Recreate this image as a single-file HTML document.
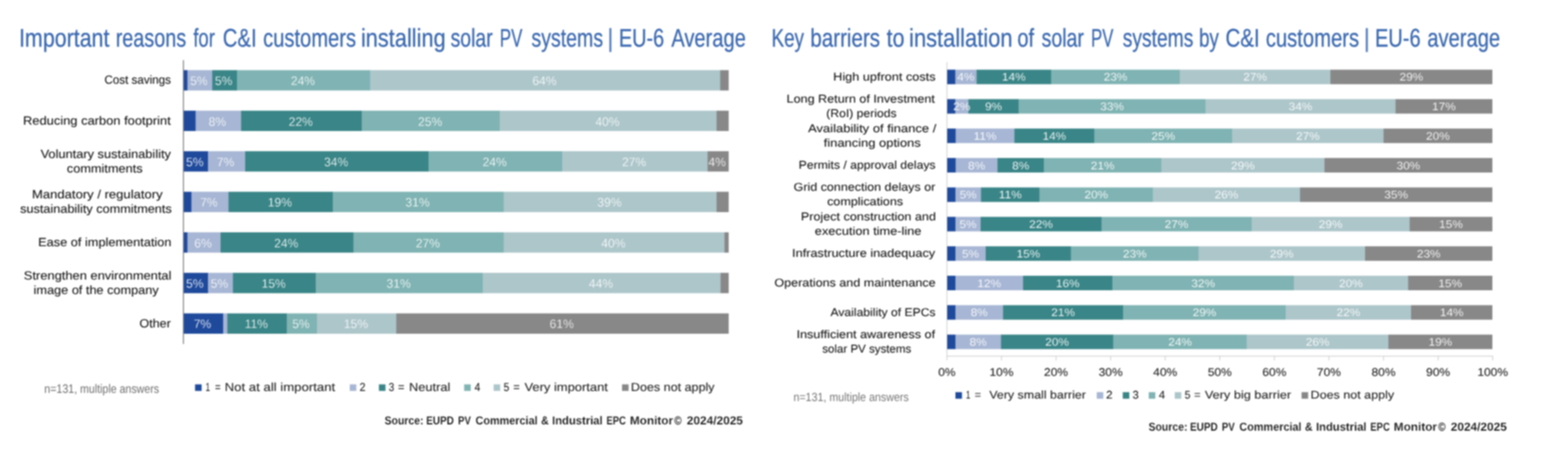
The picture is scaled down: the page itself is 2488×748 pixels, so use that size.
<!DOCTYPE html>
<html lang="en">
<head>
<meta charset="utf-8">
<title>C&amp;I solar PV survey charts</title>
<style>
html,body{margin:0;padding:0;background:#ffffff;}
body{width:2488px;height:748px;overflow:hidden;position:relative;}
svg{position:absolute;left:0;top:0;display:block;font-family:"Liberation Sans",sans-serif;}
svg text{white-space:pre;text-rendering:geometricPrecision;}
#left{filter:blur(1.0px);}
#right{filter:blur(1.2px);}
</style>
</head>
<body>
<svg id="left" width="2488" height="748" viewBox="0 0 2488 748">
<text font-size="40.5" fill="#3a68b0" stroke="#3a68b0" stroke-width="0.4"><tspan x="30.14" y="73.75" textLength="143.55" lengthAdjust="spacingAndGlyphs">Important</tspan> <tspan x="183.66" y="73.75" textLength="111.67" lengthAdjust="spacingAndGlyphs">reasons</tspan> <tspan x="306.66" y="73.75" textLength="34.25" lengthAdjust="spacingAndGlyphs">for</tspan> <tspan x="353.60" y="73.75" textLength="53.50" lengthAdjust="spacingAndGlyphs">C&amp;I</tspan> <tspan x="417.42" y="73.75" textLength="147.58" lengthAdjust="spacingAndGlyphs">customers</tspan> <tspan x="572.70" y="73.75" textLength="134.46" lengthAdjust="spacingAndGlyphs">installing</tspan> <tspan x="714.93" y="73.75" textLength="66.76" lengthAdjust="spacingAndGlyphs">solar</tspan> <tspan x="793.05" y="73.75" textLength="35.86" lengthAdjust="spacingAndGlyphs">PV</tspan> <tspan x="843.17" y="73.75" textLength="113.77" lengthAdjust="spacingAndGlyphs">systems</tspan> <tspan x="963.36" y="73.75" stroke="none" fill-opacity="0.85">|</tspan> <tspan x="981.92" y="73.75" textLength="72.00" lengthAdjust="spacingAndGlyphs">EU-6</tspan> <tspan x="1065.20" y="73.75" textLength="118.18" lengthAdjust="spacingAndGlyphs">Average</tspan></text>
<rect x="290.45" y="95.50" width="1.20" height="450.80" fill="#555555"/>
<rect x="291.50" y="111.40" width="6.30" height="32.30" fill="#1f4a9c"/>
<rect x="297.50" y="111.40" width="39.55" height="32.30" fill="#a7b6d4"/>
<rect x="336.75" y="111.40" width="39.80" height="32.30" fill="#3a8587"/>
<rect x="376.25" y="111.40" width="211.55" height="32.30" fill="#80b3b3"/>
<rect x="587.50" y="111.40" width="555.55" height="32.30" fill="#adc6ca"/>
<rect x="1142.75" y="111.40" width="13.50" height="32.30" fill="#888888"/>
<text x="315.52" y="135.15" font-size="19.6" text-anchor="middle" textLength="27.76" lengthAdjust="spacingAndGlyphs" fill="#ffffff" fill-opacity="1" stroke="#a7b6d4" stroke-width="0.3">5%</text>
<text x="354.90" y="135.15" font-size="19.6" text-anchor="middle" textLength="27.76" lengthAdjust="spacingAndGlyphs" fill="#ffffff" fill-opacity="1" stroke="#3a8587" stroke-width="0.3">5%</text>
<text x="480.68" y="135.15" font-size="19.6" text-anchor="middle" textLength="38.44" lengthAdjust="spacingAndGlyphs" fill="#ffffff" fill-opacity="1" stroke="#80b3b3" stroke-width="0.3">24%</text>
<text x="863.92" y="135.15" font-size="19.6" text-anchor="middle" textLength="38.44" lengthAdjust="spacingAndGlyphs" fill="#ffffff" fill-opacity="1" stroke="#adc6ca" stroke-width="0.3">64%</text>
<text font-size="19.0" fill="#141414" stroke="#141414" stroke-width="0.12"><tspan x="165.78" y="133.45" textLength="105.41" lengthAdjust="spacingAndGlyphs">Cost savings</tspan></text>
<rect x="291.50" y="175.78" width="19.30" height="32.30" fill="#1f4a9c"/>
<rect x="310.50" y="175.78" width="72.30" height="32.30" fill="#a7b6d4"/>
<rect x="382.50" y="175.78" width="192.05" height="32.30" fill="#3a8587"/>
<rect x="574.25" y="175.78" width="219.30" height="32.30" fill="#80b3b3"/>
<rect x="793.25" y="175.78" width="344.05" height="32.30" fill="#adc6ca"/>
<rect x="1137.00" y="175.78" width="19.25" height="32.30" fill="#888888"/>
<text x="344.90" y="199.53" font-size="19.6" text-anchor="middle" textLength="27.76" lengthAdjust="spacingAndGlyphs" fill="#ffffff" fill-opacity="1" stroke="#a7b6d4" stroke-width="0.3">8%</text>
<text x="477.18" y="199.53" font-size="19.6" text-anchor="middle" textLength="38.44" lengthAdjust="spacingAndGlyphs" fill="#ffffff" fill-opacity="1" stroke="#3a8587" stroke-width="0.3">22%</text>
<text x="682.55" y="199.53" font-size="19.6" text-anchor="middle" textLength="38.44" lengthAdjust="spacingAndGlyphs" fill="#ffffff" fill-opacity="1" stroke="#80b3b3" stroke-width="0.3">25%</text>
<text x="963.92" y="199.53" font-size="19.6" text-anchor="middle" textLength="38.44" lengthAdjust="spacingAndGlyphs" fill="#ffffff" fill-opacity="1" stroke="#adc6ca" stroke-width="0.3">40%</text>
<text font-size="19.0" fill="#141414" stroke="#141414" stroke-width="0.12"><tspan x="36.56" y="197.83" textLength="234.28" lengthAdjust="spacingAndGlyphs">Reducing carbon footprint</tspan></text>
<rect x="291.50" y="240.16" width="38.80" height="32.30" fill="#1f4a9c"/>
<rect x="330.00" y="240.16" width="59.30" height="32.30" fill="#a7b6d4"/>
<rect x="389.00" y="240.16" width="291.55" height="32.30" fill="#3a8587"/>
<rect x="680.25" y="240.16" width="212.05" height="32.30" fill="#80b3b3"/>
<rect x="892.00" y="240.16" width="231.05" height="32.30" fill="#adc6ca"/>
<rect x="1122.75" y="240.16" width="33.50" height="32.30" fill="#888888"/>
<text x="309.15" y="263.91" font-size="19.6" text-anchor="middle" textLength="27.76" lengthAdjust="spacingAndGlyphs" fill="#ffffff" fill-opacity="1" stroke="#1f4a9c" stroke-width="0.3">5%</text>
<text x="357.90" y="263.91" font-size="19.6" text-anchor="middle" textLength="27.76" lengthAdjust="spacingAndGlyphs" fill="#ffffff" fill-opacity="1" stroke="#a7b6d4" stroke-width="0.3">7%</text>
<text x="533.42" y="263.91" font-size="19.6" text-anchor="middle" textLength="38.44" lengthAdjust="spacingAndGlyphs" fill="#ffffff" fill-opacity="1" stroke="#3a8587" stroke-width="0.3">34%</text>
<text x="784.92" y="263.91" font-size="19.6" text-anchor="middle" textLength="38.44" lengthAdjust="spacingAndGlyphs" fill="#ffffff" fill-opacity="1" stroke="#80b3b3" stroke-width="0.3">24%</text>
<text x="1006.17" y="263.91" font-size="19.6" text-anchor="middle" textLength="38.44" lengthAdjust="spacingAndGlyphs" fill="#ffffff" fill-opacity="1" stroke="#adc6ca" stroke-width="0.3">27%</text>
<text x="1137.90" y="263.91" font-size="19.6" text-anchor="middle" textLength="27.76" lengthAdjust="spacingAndGlyphs" fill="#ffffff" fill-opacity="1" stroke="#888888" stroke-width="0.3">4%</text>
<text font-size="19.0" fill="#141414" stroke="#141414" stroke-width="0.12"><tspan x="64.45" y="250.61" textLength="206.80" lengthAdjust="spacingAndGlyphs">Voluntary sustainability</tspan> <tspan x="106.14" y="273.81" textLength="120.12" lengthAdjust="spacingAndGlyphs">commitments</tspan></text>
<rect x="291.50" y="304.54" width="12.55" height="32.30" fill="#1f4a9c"/>
<rect x="303.75" y="304.54" width="59.05" height="32.30" fill="#a7b6d4"/>
<rect x="362.50" y="304.54" width="165.80" height="32.30" fill="#3a8587"/>
<rect x="528.00" y="304.54" width="271.80" height="32.30" fill="#80b3b3"/>
<rect x="799.50" y="304.54" width="337.80" height="32.30" fill="#adc6ca"/>
<rect x="1137.00" y="304.54" width="19.25" height="32.30" fill="#888888"/>
<text x="331.52" y="328.29" font-size="19.6" text-anchor="middle" textLength="27.76" lengthAdjust="spacingAndGlyphs" fill="#ffffff" fill-opacity="1" stroke="#a7b6d4" stroke-width="0.3">7%</text>
<text x="444.05" y="328.29" font-size="19.6" text-anchor="middle" textLength="38.44" lengthAdjust="spacingAndGlyphs" fill="#ffffff" fill-opacity="1" stroke="#3a8587" stroke-width="0.3">19%</text>
<text x="662.55" y="328.29" font-size="19.6" text-anchor="middle" textLength="38.44" lengthAdjust="spacingAndGlyphs" fill="#ffffff" fill-opacity="1" stroke="#80b3b3" stroke-width="0.3">31%</text>
<text x="967.05" y="328.29" font-size="19.6" text-anchor="middle" textLength="38.44" lengthAdjust="spacingAndGlyphs" fill="#ffffff" fill-opacity="1" stroke="#adc6ca" stroke-width="0.3">39%</text>
<text font-size="19.0" fill="#141414" stroke="#141414" stroke-width="0.12"><tspan x="50.79" y="314.99" textLength="207.26" lengthAdjust="spacingAndGlyphs">Mandatory / regulatory</tspan> <tspan x="31.95" y="338.19" textLength="240.53" lengthAdjust="spacingAndGlyphs">sustainability commitments</tspan></text>
<rect x="291.50" y="368.92" width="6.30" height="32.30" fill="#1f4a9c"/>
<rect x="297.50" y="368.92" width="52.80" height="32.30" fill="#a7b6d4"/>
<rect x="350.00" y="368.92" width="211.05" height="32.30" fill="#3a8587"/>
<rect x="560.75" y="368.92" width="239.05" height="32.30" fill="#80b3b3"/>
<rect x="799.50" y="368.92" width="350.30" height="32.30" fill="#adc6ca"/>
<rect x="1149.50" y="368.92" width="6.75" height="32.30" fill="#888888"/>
<text x="322.15" y="392.67" font-size="19.6" text-anchor="middle" textLength="27.76" lengthAdjust="spacingAndGlyphs" fill="#ffffff" fill-opacity="1" stroke="#a7b6d4" stroke-width="0.3">6%</text>
<text x="454.18" y="392.67" font-size="19.6" text-anchor="middle" textLength="38.44" lengthAdjust="spacingAndGlyphs" fill="#ffffff" fill-opacity="1" stroke="#3a8587" stroke-width="0.3">24%</text>
<text x="678.92" y="392.67" font-size="19.6" text-anchor="middle" textLength="38.44" lengthAdjust="spacingAndGlyphs" fill="#ffffff" fill-opacity="1" stroke="#80b3b3" stroke-width="0.3">27%</text>
<text x="973.30" y="392.67" font-size="19.6" text-anchor="middle" textLength="38.44" lengthAdjust="spacingAndGlyphs" fill="#ffffff" fill-opacity="1" stroke="#adc6ca" stroke-width="0.3">40%</text>
<text font-size="19.0" fill="#141414" stroke="#141414" stroke-width="0.12"><tspan x="60.58" y="390.97" textLength="211.44" lengthAdjust="spacingAndGlyphs">Ease of implementation</tspan></text>
<rect x="291.50" y="433.30" width="38.80" height="32.30" fill="#1f4a9c"/>
<rect x="330.00" y="433.30" width="39.80" height="32.30" fill="#a7b6d4"/>
<rect x="369.50" y="433.30" width="132.05" height="32.30" fill="#3a8587"/>
<rect x="501.25" y="433.30" width="265.30" height="32.30" fill="#80b3b3"/>
<rect x="766.25" y="433.30" width="377.30" height="32.30" fill="#adc6ca"/>
<rect x="1143.25" y="433.30" width="13.00" height="32.30" fill="#888888"/>
<text x="309.15" y="457.05" font-size="19.6" text-anchor="middle" textLength="27.76" lengthAdjust="spacingAndGlyphs" fill="#ffffff" fill-opacity="1" stroke="#1f4a9c" stroke-width="0.3">5%</text>
<text x="348.15" y="457.05" font-size="19.6" text-anchor="middle" textLength="27.76" lengthAdjust="spacingAndGlyphs" fill="#ffffff" fill-opacity="1" stroke="#a7b6d4" stroke-width="0.3">5%</text>
<text x="434.18" y="457.05" font-size="19.6" text-anchor="middle" textLength="38.44" lengthAdjust="spacingAndGlyphs" fill="#ffffff" fill-opacity="1" stroke="#3a8587" stroke-width="0.3">15%</text>
<text x="632.55" y="457.05" font-size="19.6" text-anchor="middle" textLength="38.44" lengthAdjust="spacingAndGlyphs" fill="#ffffff" fill-opacity="1" stroke="#80b3b3" stroke-width="0.3">31%</text>
<text x="953.55" y="457.05" font-size="19.6" text-anchor="middle" textLength="38.44" lengthAdjust="spacingAndGlyphs" fill="#ffffff" fill-opacity="1" stroke="#adc6ca" stroke-width="0.3">44%</text>
<text font-size="19.0" fill="#141414" stroke="#141414" stroke-width="0.12"><tspan x="37.78" y="443.75" textLength="234.29" lengthAdjust="spacingAndGlyphs">Strengthen environmental</tspan> <tspan x="53.39" y="466.95" textLength="198.39" lengthAdjust="spacingAndGlyphs">image of the company</tspan></text>
<rect x="291.50" y="497.68" width="63.05" height="32.30" fill="#1f4a9c"/>
<rect x="354.25" y="497.68" width="6.80" height="32.30" fill="#a7b6d4"/>
<rect x="360.75" y="497.68" width="94.55" height="32.30" fill="#3a8587"/>
<rect x="455.00" y="497.68" width="48.55" height="32.30" fill="#80b3b3"/>
<rect x="503.25" y="497.68" width="125.80" height="32.30" fill="#adc6ca"/>
<rect x="628.75" y="497.68" width="527.50" height="32.30" fill="#888888"/>
<text x="321.27" y="521.43" font-size="19.6" text-anchor="middle" textLength="27.76" lengthAdjust="spacingAndGlyphs" fill="#ffffff" fill-opacity="1" stroke="#1f4a9c" stroke-width="0.3">7%</text>
<text x="406.68" y="521.43" font-size="19.6" text-anchor="middle" textLength="37.02" lengthAdjust="spacingAndGlyphs" fill="#ffffff" fill-opacity="1" stroke="#3a8587" stroke-width="0.3">11%</text>
<text x="477.52" y="521.43" font-size="19.6" text-anchor="middle" textLength="27.76" lengthAdjust="spacingAndGlyphs" fill="#ffffff" fill-opacity="1" stroke="#80b3b3" stroke-width="0.3">5%</text>
<text x="564.80" y="521.43" font-size="19.6" text-anchor="middle" textLength="38.44" lengthAdjust="spacingAndGlyphs" fill="#ffffff" fill-opacity="1" stroke="#adc6ca" stroke-width="0.3">15%</text>
<text x="891.30" y="521.43" font-size="19.6" text-anchor="middle" textLength="38.44" lengthAdjust="spacingAndGlyphs" fill="#ffffff" fill-opacity="1" stroke="#888888" stroke-width="0.3">61%</text>
<text font-size="19.0" fill="#141414" stroke="#141414" stroke-width="0.12"><tspan x="221.31" y="519.73" textLength="49.71" lengthAdjust="spacingAndGlyphs">Other</tspan></text>
<rect x="309.50" y="610.40" width="10.40" height="10.40" fill="#1f4a9c"/>
<text font-size="18.6" fill="#222222" stroke="#222222" stroke-width="0.12"><tspan x="326.37" y="620.60" textLength="6.90" lengthAdjust="spacingAndGlyphs">1</tspan> <tspan x="341.27" y="620.60" textLength="8.76" lengthAdjust="spacingAndGlyphs">=</tspan> <tspan x="356.53" y="620.60" textLength="175.33" lengthAdjust="spacingAndGlyphs">Not at all important</tspan></text>
<rect x="555.00" y="610.40" width="10.40" height="10.40" fill="#a7b6d4"/>
<text font-size="18.6" fill="#222222" stroke="#222222" stroke-width="0.12"><tspan x="570.60" y="620.60" textLength="9.49" lengthAdjust="spacingAndGlyphs">2</tspan></text>
<rect x="601.25" y="610.40" width="10.40" height="10.40" fill="#3a8587"/>
<text font-size="18.6" fill="#222222" stroke="#222222" stroke-width="0.12"><tspan x="616.65" y="620.60" textLength="8.81" lengthAdjust="spacingAndGlyphs">3</tspan> <tspan x="631.41" y="620.60" textLength="10.25" lengthAdjust="spacingAndGlyphs">=</tspan> <tspan x="649.07" y="620.60" textLength="65.52" lengthAdjust="spacingAndGlyphs">Neutral</tspan></text>
<rect x="736.50" y="610.40" width="10.40" height="10.40" fill="#80b3b3"/>
<text font-size="18.6" fill="#222222" stroke="#222222" stroke-width="0.12"><tspan x="753.12" y="620.60" textLength="9.11" lengthAdjust="spacingAndGlyphs">4</tspan></text>
<rect x="783.25" y="610.40" width="10.40" height="10.40" fill="#adc6ca"/>
<text font-size="18.6" fill="#222222" stroke="#222222" stroke-width="0.12"><tspan x="799.04" y="620.60" textLength="9.13" lengthAdjust="spacingAndGlyphs">5</tspan> <tspan x="814.41" y="620.60" textLength="10.25" lengthAdjust="spacingAndGlyphs">=</tspan> <tspan x="832.20" y="620.60" textLength="132.40" lengthAdjust="spacingAndGlyphs">Very important</tspan></text>
<rect x="987.00" y="610.40" width="10.40" height="10.40" fill="#888888"/>
<text font-size="18.6" fill="#222222" stroke="#222222" stroke-width="0.12"><tspan x="1001.11" y="620.60" textLength="132.71" lengthAdjust="spacingAndGlyphs">Does not apply</tspan></text>
<text x="70.36" y="623.60" font-size="19.6" textLength="182.06" lengthAdjust="spacingAndGlyphs" fill="#6e6e6e">n=131, multiple answers</text>
<text font-size="18.4" font-weight="bold" fill="#161616" stroke="#ffffff" stroke-width="0.15"><tspan x="610.28" y="674.20" textLength="61.81" lengthAdjust="spacingAndGlyphs">Source:</tspan> <tspan x="676.17" y="674.20" textLength="43.99" lengthAdjust="spacingAndGlyphs">EUPD</tspan> <tspan x="726.70" y="674.20" textLength="20.49" lengthAdjust="spacingAndGlyphs">PV</tspan> <tspan x="754.51" y="674.20" textLength="98.49" lengthAdjust="spacingAndGlyphs">Commercial</tspan> <tspan x="858.52" y="674.20" textLength="12.24" lengthAdjust="spacingAndGlyphs">&amp;</tspan> <tspan x="876.04" y="674.20" textLength="80.18" lengthAdjust="spacingAndGlyphs">Industrial</tspan> <tspan x="962.22" y="674.20" textLength="30.97" lengthAdjust="spacingAndGlyphs">EPC</tspan> <tspan x="999.49" y="674.20" textLength="68.51" lengthAdjust="spacingAndGlyphs">Monitor</tspan><tspan x="1070.07" y="674.20" textLength="11.42" lengthAdjust="spacingAndGlyphs" font-weight="normal" stroke="#161616" stroke-width="0.3">©</tspan> <tspan x="1089.89" y="674.20" textLength="88.93" lengthAdjust="spacingAndGlyphs">2024/2025</tspan></text>
</svg>
<svg id="right" width="2488" height="748" viewBox="0 0 2488 748">
<text font-size="40.5" fill="#3a68b0" stroke="#3a68b0" stroke-width="0.4"><tspan x="1224.31" y="73.75" textLength="51.43" lengthAdjust="spacingAndGlyphs">Key</tspan> <tspan x="1285.74" y="73.75" textLength="110.70" lengthAdjust="spacingAndGlyphs">barriers</tspan> <tspan x="1406.69" y="73.75" textLength="28.44" lengthAdjust="spacingAndGlyphs">to</tspan> <tspan x="1442.44" y="73.75" textLength="164.20" lengthAdjust="spacingAndGlyphs">installation</tspan> <tspan x="1614.17" y="73.75" textLength="26.59" lengthAdjust="spacingAndGlyphs">of</tspan> <tspan x="1652.67" y="73.75" textLength="67.27" lengthAdjust="spacingAndGlyphs">solar</tspan> <tspan x="1731.33" y="73.75" textLength="35.33" lengthAdjust="spacingAndGlyphs">PV</tspan> <tspan x="1781.44" y="73.75" textLength="111.99" lengthAdjust="spacingAndGlyphs">systems</tspan> <tspan x="1902.40" y="73.75" textLength="31.69" lengthAdjust="spacingAndGlyphs">by</tspan> <tspan x="1944.57" y="73.75" textLength="54.31" lengthAdjust="spacingAndGlyphs">C&amp;I</tspan> <tspan x="2008.42" y="73.75" textLength="148.09" lengthAdjust="spacingAndGlyphs">customers</tspan> <tspan x="2163.61" y="73.75" stroke="none" fill-opacity="0.85">|</tspan> <tspan x="2181.65" y="73.75" textLength="72.53" lengthAdjust="spacingAndGlyphs">EU-6</tspan> <tspan x="2264.67" y="73.75" textLength="115.62" lengthAdjust="spacingAndGlyphs">average</tspan></text>
<rect x="1501.90" y="98.50" width="1.30" height="474.00" fill="#cfcfcf"/>
<rect x="1501.90" y="564.90" width="867.20" height="1.30" fill="#cfcfcf"/>
<text x="1502.50" y="597.20" font-size="17.8" text-anchor="middle" textLength="27.53" lengthAdjust="spacingAndGlyphs" fill="#202020" stroke="#202020" stroke-width="0.12">0%</text>
<rect x="1588.45" y="565.00" width="1.30" height="7.50" fill="#cfcfcf"/>
<text x="1589.10" y="597.20" font-size="17.8" text-anchor="middle" textLength="38.12" lengthAdjust="spacingAndGlyphs" fill="#202020" stroke="#202020" stroke-width="0.12">10%</text>
<rect x="1675.05" y="565.00" width="1.30" height="7.50" fill="#cfcfcf"/>
<text x="1675.70" y="597.20" font-size="17.8" text-anchor="middle" textLength="38.12" lengthAdjust="spacingAndGlyphs" fill="#202020" stroke="#202020" stroke-width="0.12">20%</text>
<rect x="1761.65" y="565.00" width="1.30" height="7.50" fill="#cfcfcf"/>
<text x="1762.30" y="597.20" font-size="17.8" text-anchor="middle" textLength="38.12" lengthAdjust="spacingAndGlyphs" fill="#202020" stroke="#202020" stroke-width="0.12">30%</text>
<rect x="1848.25" y="565.00" width="1.30" height="7.50" fill="#cfcfcf"/>
<text x="1848.90" y="597.20" font-size="17.8" text-anchor="middle" textLength="38.12" lengthAdjust="spacingAndGlyphs" fill="#202020" stroke="#202020" stroke-width="0.12">40%</text>
<rect x="1934.85" y="565.00" width="1.30" height="7.50" fill="#cfcfcf"/>
<text x="1935.50" y="597.20" font-size="17.8" text-anchor="middle" textLength="38.12" lengthAdjust="spacingAndGlyphs" fill="#202020" stroke="#202020" stroke-width="0.12">50%</text>
<rect x="2021.45" y="565.00" width="1.30" height="7.50" fill="#cfcfcf"/>
<text x="2022.10" y="597.20" font-size="17.8" text-anchor="middle" textLength="38.12" lengthAdjust="spacingAndGlyphs" fill="#202020" stroke="#202020" stroke-width="0.12">60%</text>
<rect x="2108.05" y="565.00" width="1.30" height="7.50" fill="#cfcfcf"/>
<text x="2108.70" y="597.20" font-size="17.8" text-anchor="middle" textLength="38.12" lengthAdjust="spacingAndGlyphs" fill="#202020" stroke="#202020" stroke-width="0.12">70%</text>
<rect x="2194.65" y="565.00" width="1.30" height="7.50" fill="#cfcfcf"/>
<text x="2195.30" y="597.20" font-size="17.8" text-anchor="middle" textLength="38.12" lengthAdjust="spacingAndGlyphs" fill="#202020" stroke="#202020" stroke-width="0.12">80%</text>
<rect x="2281.25" y="565.00" width="1.30" height="7.50" fill="#cfcfcf"/>
<text x="2281.90" y="597.20" font-size="17.8" text-anchor="middle" textLength="38.12" lengthAdjust="spacingAndGlyphs" fill="#202020" stroke="#202020" stroke-width="0.12">90%</text>
<rect x="2367.85" y="565.00" width="1.30" height="7.50" fill="#cfcfcf"/>
<text x="2368.50" y="597.20" font-size="17.8" text-anchor="middle" textLength="48.71" lengthAdjust="spacingAndGlyphs" fill="#202020" stroke="#202020" stroke-width="0.12">100%</text>
<rect x="1503.00" y="110.65" width="13.05" height="23.05" fill="#1f4a9c"/>
<rect x="1515.75" y="110.65" width="34.05" height="23.05" fill="#a7b6d4"/>
<rect x="1549.50" y="110.65" width="118.55" height="23.05" fill="#3a8587"/>
<rect x="1667.75" y="110.65" width="204.80" height="23.05" fill="#80b3b3"/>
<rect x="1872.25" y="110.65" width="239.05" height="23.05" fill="#adc6ca"/>
<rect x="2111.00" y="110.65" width="257.00" height="23.05" fill="#888888"/>
<text x="1532.62" y="128.38" font-size="17.4" text-anchor="middle" textLength="27.16" lengthAdjust="spacingAndGlyphs" fill="#ffffff" fill-opacity="1" stroke="#a7b6d4" stroke-width="0.15">4%</text>
<text x="1608.62" y="128.38" font-size="17.4" text-anchor="middle" textLength="37.61" lengthAdjust="spacingAndGlyphs" fill="#ffffff" fill-opacity="1" stroke="#3a8587" stroke-width="0.15">14%</text>
<text x="1770.00" y="128.38" font-size="17.4" text-anchor="middle" textLength="37.61" lengthAdjust="spacingAndGlyphs" fill="#ffffff" fill-opacity="1" stroke="#80b3b3" stroke-width="0.15">23%</text>
<text x="1991.62" y="128.38" font-size="17.4" text-anchor="middle" textLength="37.61" lengthAdjust="spacingAndGlyphs" fill="#ffffff" fill-opacity="1" stroke="#adc6ca" stroke-width="0.15">27%</text>
<text x="2239.50" y="128.38" font-size="17.4" text-anchor="middle" textLength="37.61" lengthAdjust="spacingAndGlyphs" fill="#ffffff" fill-opacity="1" stroke="#888888" stroke-width="0.15">29%</text>
<text font-size="18" fill="#141414" stroke="#141414" stroke-width="0.12"><tspan x="1322.09" y="127.98" textLength="162.41" lengthAdjust="spacingAndGlyphs">High upfront costs</tspan></text>
<rect x="1503.00" y="157.40" width="13.05" height="23.05" fill="#1f4a9c"/>
<rect x="1515.75" y="157.40" width="21.05" height="23.05" fill="#a7b6d4"/>
<rect x="1536.50" y="157.40" width="80.30" height="23.05" fill="#3a8587"/>
<rect x="1616.50" y="157.40" width="296.55" height="23.05" fill="#80b3b3"/>
<rect x="1912.75" y="157.40" width="301.80" height="23.05" fill="#adc6ca"/>
<rect x="2214.25" y="157.40" width="153.75" height="23.05" fill="#888888"/>
<text x="1526.12" y="175.12" font-size="17.4" text-anchor="middle" textLength="27.16" lengthAdjust="spacingAndGlyphs" fill="#ffffff" fill-opacity="1" stroke="#a7b6d4" stroke-width="0.15">2%</text>
<text x="1576.50" y="175.12" font-size="17.4" text-anchor="middle" textLength="27.16" lengthAdjust="spacingAndGlyphs" fill="#ffffff" fill-opacity="1" stroke="#3a8587" stroke-width="0.15">9%</text>
<text x="1764.62" y="175.12" font-size="17.4" text-anchor="middle" textLength="37.61" lengthAdjust="spacingAndGlyphs" fill="#ffffff" fill-opacity="1" stroke="#80b3b3" stroke-width="0.15">33%</text>
<text x="2063.50" y="175.12" font-size="17.4" text-anchor="middle" textLength="37.61" lengthAdjust="spacingAndGlyphs" fill="#ffffff" fill-opacity="1" stroke="#adc6ca" stroke-width="0.15">34%</text>
<text x="2291.12" y="175.12" font-size="17.4" text-anchor="middle" textLength="37.61" lengthAdjust="spacingAndGlyphs" fill="#ffffff" fill-opacity="1" stroke="#888888" stroke-width="0.15">17%</text>
<text font-size="18" fill="#141414" stroke="#141414" stroke-width="0.12"><tspan x="1248.10" y="163.23" textLength="235.29" lengthAdjust="spacingAndGlyphs">Long Return of Investment</tspan> <tspan x="1311.04" y="186.23" textLength="111.69" lengthAdjust="spacingAndGlyphs">(RoI) periods</tspan></text>
<rect x="1503.00" y="204.15" width="13.80" height="23.05" fill="#1f4a9c"/>
<rect x="1516.50" y="204.15" width="93.30" height="23.05" fill="#a7b6d4"/>
<rect x="1609.50" y="204.15" width="127.30" height="23.05" fill="#3a8587"/>
<rect x="1736.50" y="204.15" width="219.05" height="23.05" fill="#80b3b3"/>
<rect x="1955.25" y="204.15" width="240.30" height="23.05" fill="#adc6ca"/>
<rect x="2195.25" y="204.15" width="172.75" height="23.05" fill="#888888"/>
<text x="1563.00" y="221.88" font-size="17.4" text-anchor="middle" textLength="36.22" lengthAdjust="spacingAndGlyphs" fill="#ffffff" fill-opacity="1" stroke="#a7b6d4" stroke-width="0.15">11%</text>
<text x="1673.00" y="221.88" font-size="17.4" text-anchor="middle" textLength="37.61" lengthAdjust="spacingAndGlyphs" fill="#ffffff" fill-opacity="1" stroke="#3a8587" stroke-width="0.15">14%</text>
<text x="1845.88" y="221.88" font-size="17.4" text-anchor="middle" textLength="37.61" lengthAdjust="spacingAndGlyphs" fill="#ffffff" fill-opacity="1" stroke="#80b3b3" stroke-width="0.15">25%</text>
<text x="2075.25" y="221.88" font-size="17.4" text-anchor="middle" textLength="37.61" lengthAdjust="spacingAndGlyphs" fill="#ffffff" fill-opacity="1" stroke="#adc6ca" stroke-width="0.15">27%</text>
<text x="2281.62" y="221.88" font-size="17.4" text-anchor="middle" textLength="37.61" lengthAdjust="spacingAndGlyphs" fill="#ffffff" fill-opacity="1" stroke="#888888" stroke-width="0.15">20%</text>
<text font-size="18" fill="#141414" stroke="#141414" stroke-width="0.12"><tspan x="1282.20" y="209.98" textLength="203.52" lengthAdjust="spacingAndGlyphs">Availability of finance /</tspan> <tspan x="1306.99" y="232.98" textLength="154.03" lengthAdjust="spacingAndGlyphs">financing options</tspan></text>
<rect x="1503.00" y="250.90" width="13.80" height="23.05" fill="#1f4a9c"/>
<rect x="1516.50" y="250.90" width="66.55" height="23.05" fill="#a7b6d4"/>
<rect x="1582.75" y="250.90" width="74.05" height="23.05" fill="#3a8587"/>
<rect x="1656.50" y="250.90" width="186.55" height="23.05" fill="#80b3b3"/>
<rect x="1842.75" y="250.90" width="259.05" height="23.05" fill="#adc6ca"/>
<rect x="2101.50" y="250.90" width="266.50" height="23.05" fill="#888888"/>
<text x="1549.62" y="268.62" font-size="17.4" text-anchor="middle" textLength="27.16" lengthAdjust="spacingAndGlyphs" fill="#ffffff" fill-opacity="1" stroke="#a7b6d4" stroke-width="0.15">8%</text>
<text x="1619.62" y="268.62" font-size="17.4" text-anchor="middle" textLength="27.16" lengthAdjust="spacingAndGlyphs" fill="#ffffff" fill-opacity="1" stroke="#3a8587" stroke-width="0.15">8%</text>
<text x="1749.62" y="268.62" font-size="17.4" text-anchor="middle" textLength="37.61" lengthAdjust="spacingAndGlyphs" fill="#ffffff" fill-opacity="1" stroke="#80b3b3" stroke-width="0.15">21%</text>
<text x="1972.12" y="268.62" font-size="17.4" text-anchor="middle" textLength="37.61" lengthAdjust="spacingAndGlyphs" fill="#ffffff" fill-opacity="1" stroke="#adc6ca" stroke-width="0.15">29%</text>
<text x="2234.75" y="268.62" font-size="17.4" text-anchor="middle" textLength="37.61" lengthAdjust="spacingAndGlyphs" fill="#ffffff" fill-opacity="1" stroke="#888888" stroke-width="0.15">30%</text>
<text font-size="18" fill="#141414" stroke="#141414" stroke-width="0.12"><tspan x="1267.35" y="268.23" textLength="217.17" lengthAdjust="spacingAndGlyphs">Permits / approval delays</tspan></text>
<rect x="1503.00" y="297.65" width="13.30" height="23.05" fill="#1f4a9c"/>
<rect x="1516.00" y="297.65" width="40.80" height="23.05" fill="#a7b6d4"/>
<rect x="1556.50" y="297.65" width="93.30" height="23.05" fill="#3a8587"/>
<rect x="1649.50" y="297.65" width="180.30" height="23.05" fill="#80b3b3"/>
<rect x="1829.50" y="297.65" width="233.55" height="23.05" fill="#adc6ca"/>
<rect x="2062.75" y="297.65" width="305.25" height="23.05" fill="#888888"/>
<text x="1536.25" y="315.37" font-size="17.4" text-anchor="middle" textLength="27.16" lengthAdjust="spacingAndGlyphs" fill="#ffffff" fill-opacity="1" stroke="#a7b6d4" stroke-width="0.15">5%</text>
<text x="1603.00" y="315.37" font-size="17.4" text-anchor="middle" textLength="36.22" lengthAdjust="spacingAndGlyphs" fill="#ffffff" fill-opacity="1" stroke="#3a8587" stroke-width="0.15">11%</text>
<text x="1739.50" y="315.37" font-size="17.4" text-anchor="middle" textLength="37.61" lengthAdjust="spacingAndGlyphs" fill="#ffffff" fill-opacity="1" stroke="#80b3b3" stroke-width="0.15">20%</text>
<text x="1946.12" y="315.37" font-size="17.4" text-anchor="middle" textLength="37.61" lengthAdjust="spacingAndGlyphs" fill="#ffffff" fill-opacity="1" stroke="#adc6ca" stroke-width="0.15">26%</text>
<text x="2215.38" y="315.37" font-size="17.4" text-anchor="middle" textLength="37.61" lengthAdjust="spacingAndGlyphs" fill="#ffffff" fill-opacity="1" stroke="#888888" stroke-width="0.15">35%</text>
<text font-size="18" fill="#141414" stroke="#141414" stroke-width="0.12"><tspan x="1259.21" y="303.47" textLength="224.88" lengthAdjust="spacingAndGlyphs">Grid connection delays or</tspan> <tspan x="1312.40" y="326.47" textLength="120.56" lengthAdjust="spacingAndGlyphs">complications</tspan></text>
<rect x="1503.00" y="344.40" width="13.30" height="23.05" fill="#1f4a9c"/>
<rect x="1516.00" y="344.40" width="40.30" height="23.05" fill="#a7b6d4"/>
<rect x="1556.00" y="344.40" width="192.05" height="23.05" fill="#3a8587"/>
<rect x="1747.75" y="344.40" width="238.55" height="23.05" fill="#80b3b3"/>
<rect x="1986.00" y="344.40" width="251.05" height="23.05" fill="#adc6ca"/>
<rect x="2236.75" y="344.40" width="131.25" height="23.05" fill="#888888"/>
<text x="1536.00" y="362.12" font-size="17.4" text-anchor="middle" textLength="27.16" lengthAdjust="spacingAndGlyphs" fill="#ffffff" fill-opacity="1" stroke="#a7b6d4" stroke-width="0.15">5%</text>
<text x="1651.88" y="362.12" font-size="17.4" text-anchor="middle" textLength="37.61" lengthAdjust="spacingAndGlyphs" fill="#ffffff" fill-opacity="1" stroke="#3a8587" stroke-width="0.15">22%</text>
<text x="1866.88" y="362.12" font-size="17.4" text-anchor="middle" textLength="37.61" lengthAdjust="spacingAndGlyphs" fill="#ffffff" fill-opacity="1" stroke="#80b3b3" stroke-width="0.15">27%</text>
<text x="2111.38" y="362.12" font-size="17.4" text-anchor="middle" textLength="37.61" lengthAdjust="spacingAndGlyphs" fill="#ffffff" fill-opacity="1" stroke="#adc6ca" stroke-width="0.15">29%</text>
<text x="2302.38" y="362.12" font-size="17.4" text-anchor="middle" textLength="37.61" lengthAdjust="spacingAndGlyphs" fill="#ffffff" fill-opacity="1" stroke="#888888" stroke-width="0.15">15%</text>
<text font-size="18" fill="#141414" stroke="#141414" stroke-width="0.12"><tspan x="1270.70" y="350.22" textLength="214.36" lengthAdjust="spacingAndGlyphs">Project construction and</tspan> <tspan x="1292.89" y="373.22" textLength="169.28" lengthAdjust="spacingAndGlyphs">execution time-line</tspan></text>
<rect x="1503.00" y="391.15" width="13.30" height="23.05" fill="#1f4a9c"/>
<rect x="1516.00" y="391.15" width="48.30" height="23.05" fill="#a7b6d4"/>
<rect x="1564.00" y="391.15" width="135.80" height="23.05" fill="#3a8587"/>
<rect x="1699.50" y="391.15" width="202.55" height="23.05" fill="#80b3b3"/>
<rect x="1901.75" y="391.15" width="264.55" height="23.05" fill="#adc6ca"/>
<rect x="2166.00" y="391.15" width="202.00" height="23.05" fill="#888888"/>
<text x="1540.00" y="408.87" font-size="17.4" text-anchor="middle" textLength="27.16" lengthAdjust="spacingAndGlyphs" fill="#ffffff" fill-opacity="1" stroke="#a7b6d4" stroke-width="0.15">5%</text>
<text x="1631.75" y="408.87" font-size="17.4" text-anchor="middle" textLength="37.61" lengthAdjust="spacingAndGlyphs" fill="#ffffff" fill-opacity="1" stroke="#3a8587" stroke-width="0.15">15%</text>
<text x="1800.62" y="408.87" font-size="17.4" text-anchor="middle" textLength="37.61" lengthAdjust="spacingAndGlyphs" fill="#ffffff" fill-opacity="1" stroke="#80b3b3" stroke-width="0.15">23%</text>
<text x="2033.88" y="408.87" font-size="17.4" text-anchor="middle" textLength="37.61" lengthAdjust="spacingAndGlyphs" fill="#ffffff" fill-opacity="1" stroke="#adc6ca" stroke-width="0.15">29%</text>
<text x="2267.00" y="408.87" font-size="17.4" text-anchor="middle" textLength="37.61" lengthAdjust="spacingAndGlyphs" fill="#ffffff" fill-opacity="1" stroke="#888888" stroke-width="0.15">23%</text>
<text font-size="18" fill="#141414" stroke="#141414" stroke-width="0.12"><tspan x="1256.89" y="408.47" textLength="226.90" lengthAdjust="spacingAndGlyphs">Infrastructure inadequacy</tspan></text>
<rect x="1503.00" y="437.90" width="13.30" height="23.05" fill="#1f4a9c"/>
<rect x="1516.00" y="437.90" width="107.55" height="23.05" fill="#a7b6d4"/>
<rect x="1623.25" y="437.90" width="142.30" height="23.05" fill="#3a8587"/>
<rect x="1765.25" y="437.90" width="288.05" height="23.05" fill="#80b3b3"/>
<rect x="2053.00" y="437.90" width="181.55" height="23.05" fill="#adc6ca"/>
<rect x="2234.25" y="437.90" width="133.75" height="23.05" fill="#888888"/>
<text x="1569.62" y="455.62" font-size="17.4" text-anchor="middle" textLength="37.61" lengthAdjust="spacingAndGlyphs" fill="#ffffff" fill-opacity="1" stroke="#a7b6d4" stroke-width="0.15">12%</text>
<text x="1694.25" y="455.62" font-size="17.4" text-anchor="middle" textLength="37.61" lengthAdjust="spacingAndGlyphs" fill="#ffffff" fill-opacity="1" stroke="#3a8587" stroke-width="0.15">16%</text>
<text x="1909.12" y="455.62" font-size="17.4" text-anchor="middle" textLength="37.61" lengthAdjust="spacingAndGlyphs" fill="#ffffff" fill-opacity="1" stroke="#80b3b3" stroke-width="0.15">32%</text>
<text x="2143.62" y="455.62" font-size="17.4" text-anchor="middle" textLength="37.61" lengthAdjust="spacingAndGlyphs" fill="#ffffff" fill-opacity="1" stroke="#adc6ca" stroke-width="0.15">20%</text>
<text x="2301.12" y="455.62" font-size="17.4" text-anchor="middle" textLength="37.61" lengthAdjust="spacingAndGlyphs" fill="#ffffff" fill-opacity="1" stroke="#888888" stroke-width="0.15">15%</text>
<text font-size="18" fill="#141414" stroke="#141414" stroke-width="0.12"><tspan x="1228.80" y="455.22" textLength="255.84" lengthAdjust="spacingAndGlyphs">Operations and maintenance</tspan></text>
<rect x="1503.00" y="484.65" width="13.30" height="23.05" fill="#1f4a9c"/>
<rect x="1516.00" y="484.65" width="75.80" height="23.05" fill="#a7b6d4"/>
<rect x="1591.50" y="484.65" width="191.05" height="23.05" fill="#3a8587"/>
<rect x="1782.25" y="484.65" width="258.30" height="23.05" fill="#80b3b3"/>
<rect x="2040.25" y="484.65" width="199.05" height="23.05" fill="#adc6ca"/>
<rect x="2239.00" y="484.65" width="129.00" height="23.05" fill="#888888"/>
<text x="1553.75" y="502.37" font-size="17.4" text-anchor="middle" textLength="27.16" lengthAdjust="spacingAndGlyphs" fill="#ffffff" fill-opacity="1" stroke="#a7b6d4" stroke-width="0.15">8%</text>
<text x="1686.88" y="502.37" font-size="17.4" text-anchor="middle" textLength="37.61" lengthAdjust="spacingAndGlyphs" fill="#ffffff" fill-opacity="1" stroke="#3a8587" stroke-width="0.15">21%</text>
<text x="1911.25" y="502.37" font-size="17.4" text-anchor="middle" textLength="37.61" lengthAdjust="spacingAndGlyphs" fill="#ffffff" fill-opacity="1" stroke="#80b3b3" stroke-width="0.15">29%</text>
<text x="2139.62" y="502.37" font-size="17.4" text-anchor="middle" textLength="37.61" lengthAdjust="spacingAndGlyphs" fill="#ffffff" fill-opacity="1" stroke="#adc6ca" stroke-width="0.15">22%</text>
<text x="2303.50" y="502.37" font-size="17.4" text-anchor="middle" textLength="37.61" lengthAdjust="spacingAndGlyphs" fill="#ffffff" fill-opacity="1" stroke="#888888" stroke-width="0.15">14%</text>
<text font-size="18" fill="#141414" stroke="#141414" stroke-width="0.12"><tspan x="1317.70" y="501.97" textLength="166.82" lengthAdjust="spacingAndGlyphs">Availability of EPCs</tspan></text>
<rect x="1503.00" y="531.40" width="13.30" height="23.05" fill="#1f4a9c"/>
<rect x="1516.00" y="531.40" width="72.55" height="23.05" fill="#a7b6d4"/>
<rect x="1588.25" y="531.40" width="178.55" height="23.05" fill="#3a8587"/>
<rect x="1766.50" y="531.40" width="212.30" height="23.05" fill="#80b3b3"/>
<rect x="1978.50" y="531.40" width="224.80" height="23.05" fill="#adc6ca"/>
<rect x="2203.00" y="531.40" width="165.00" height="23.05" fill="#888888"/>
<text x="1552.12" y="549.12" font-size="17.4" text-anchor="middle" textLength="27.16" lengthAdjust="spacingAndGlyphs" fill="#ffffff" fill-opacity="1" stroke="#a7b6d4" stroke-width="0.15">8%</text>
<text x="1677.38" y="549.12" font-size="17.4" text-anchor="middle" textLength="37.61" lengthAdjust="spacingAndGlyphs" fill="#ffffff" fill-opacity="1" stroke="#3a8587" stroke-width="0.15">20%</text>
<text x="1872.50" y="549.12" font-size="17.4" text-anchor="middle" textLength="37.61" lengthAdjust="spacingAndGlyphs" fill="#ffffff" fill-opacity="1" stroke="#80b3b3" stroke-width="0.15">24%</text>
<text x="2090.75" y="549.12" font-size="17.4" text-anchor="middle" textLength="37.61" lengthAdjust="spacingAndGlyphs" fill="#ffffff" fill-opacity="1" stroke="#adc6ca" stroke-width="0.15">26%</text>
<text x="2285.50" y="549.12" font-size="17.4" text-anchor="middle" textLength="37.61" lengthAdjust="spacingAndGlyphs" fill="#ffffff" fill-opacity="1" stroke="#888888" stroke-width="0.15">19%</text>
<text font-size="18" fill="#141414" stroke="#141414" stroke-width="0.12"><tspan x="1263.90" y="537.22" textLength="219.86" lengthAdjust="spacingAndGlyphs">Insufficient awareness of</tspan> <tspan x="1304.74" y="560.22" textLength="141.18" lengthAdjust="spacingAndGlyphs">solar PV systems</tspan></text>
<rect x="1516.00" y="622.80" width="10.40" height="10.40" fill="#1f4a9c"/>
<text font-size="17.8" fill="#222222" stroke="#222222" stroke-width="0.12"><tspan x="1532.77" y="633.20" textLength="6.90" lengthAdjust="spacingAndGlyphs">1</tspan> <tspan x="1546.41" y="633.20" textLength="10.25" lengthAdjust="spacingAndGlyphs">=</tspan> <tspan x="1569.70" y="633.20" textLength="153.40" lengthAdjust="spacingAndGlyphs">Very small barrier</tspan></text>
<rect x="1740.25" y="622.80" width="10.40" height="10.40" fill="#a7b6d4"/>
<text font-size="17.8" fill="#222222" stroke="#222222" stroke-width="0.12"><tspan x="1755.02" y="633.20" textLength="10.40" lengthAdjust="spacingAndGlyphs">2</tspan></text>
<rect x="1781.50" y="622.80" width="10.40" height="10.40" fill="#3a8587"/>
<text font-size="17.8" fill="#222222" stroke="#222222" stroke-width="0.12"><tspan x="1797.07" y="633.20" textLength="9.96" lengthAdjust="spacingAndGlyphs">3</tspan></text>
<rect x="1822.75" y="622.80" width="10.40" height="10.40" fill="#80b3b3"/>
<text font-size="17.8" fill="#222222" stroke="#222222" stroke-width="0.12"><tspan x="1838.84" y="633.20" textLength="9.92" lengthAdjust="spacingAndGlyphs">4</tspan></text>
<rect x="1864.00" y="622.80" width="10.40" height="10.40" fill="#adc6ca"/>
<text font-size="17.8" fill="#222222" stroke="#222222" stroke-width="0.12"><tspan x="1879.79" y="633.20" textLength="9.19" lengthAdjust="spacingAndGlyphs">5</tspan> <tspan x="1894.66" y="633.20" textLength="10.25" lengthAdjust="spacingAndGlyphs">=</tspan> <tspan x="1911.70" y="633.20" textLength="137.07" lengthAdjust="spacingAndGlyphs">Very big barrier</tspan></text>
<rect x="2065.25" y="622.80" width="10.40" height="10.40" fill="#888888"/>
<text font-size="17.8" fill="#222222" stroke="#222222" stroke-width="0.12"><tspan x="2079.61" y="633.20" textLength="132.46" lengthAdjust="spacingAndGlyphs">Does not apply</tspan></text>
<text x="1259.10" y="637.00" font-size="19" textLength="182.82" lengthAdjust="spacingAndGlyphs" fill="#767676">n=131, multiple answers</text>
<text font-size="18.4" font-weight="bold" fill="#161616" stroke="#ffffff" stroke-width="0.15"><tspan x="1822.38" y="683.60" textLength="61.81" lengthAdjust="spacingAndGlyphs">Source:</tspan> <tspan x="1888.27" y="683.60" textLength="43.99" lengthAdjust="spacingAndGlyphs">EUPD</tspan> <tspan x="1938.80" y="683.60" textLength="20.49" lengthAdjust="spacingAndGlyphs">PV</tspan> <tspan x="1966.61" y="683.60" textLength="98.49" lengthAdjust="spacingAndGlyphs">Commercial</tspan> <tspan x="2070.62" y="683.60" textLength="12.24" lengthAdjust="spacingAndGlyphs">&amp;</tspan> <tspan x="2088.14" y="683.60" textLength="80.18" lengthAdjust="spacingAndGlyphs">Industrial</tspan> <tspan x="2174.32" y="683.60" textLength="30.97" lengthAdjust="spacingAndGlyphs">EPC</tspan> <tspan x="2211.59" y="683.60" textLength="68.51" lengthAdjust="spacingAndGlyphs">Monitor</tspan><tspan x="2282.17" y="683.60" textLength="11.42" lengthAdjust="spacingAndGlyphs" font-weight="normal" stroke="#161616" stroke-width="0.3">©</tspan> <tspan x="2301.99" y="683.60" textLength="88.93" lengthAdjust="spacingAndGlyphs">2024/2025</tspan></text>
</svg>
</body>
</html>
